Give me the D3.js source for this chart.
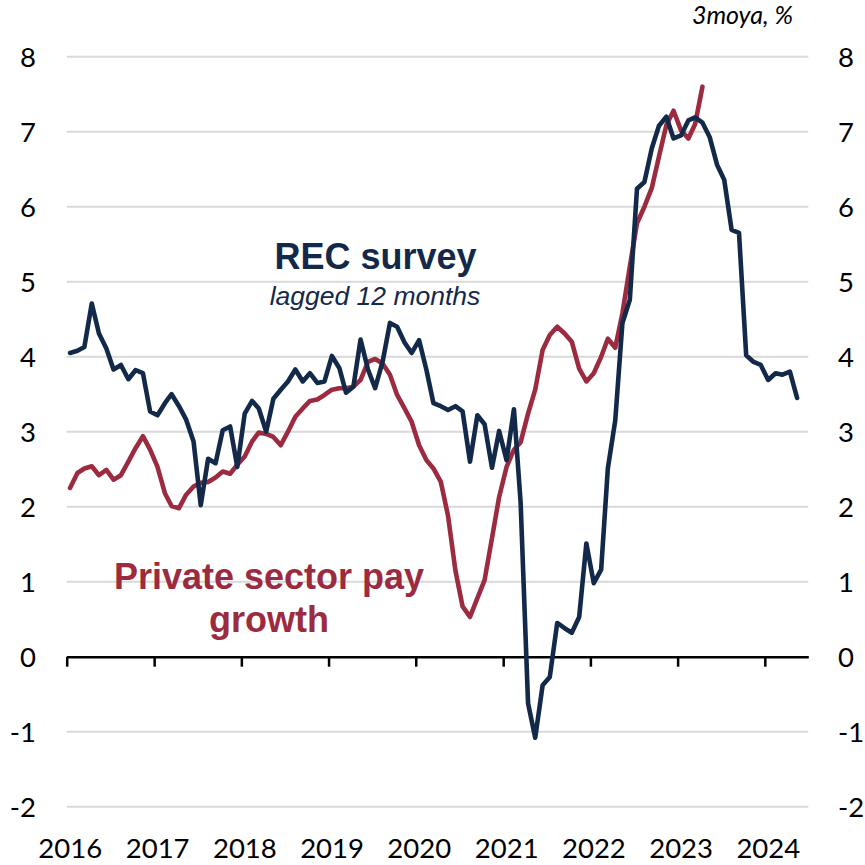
<!DOCTYPE html>
<html>
<head>
<meta charset="utf-8">
<script src="https://cdn.jsdelivr.net/npm/d3@7"></script>
<style>
  html, body { margin: 0; padding: 0; background: #ffffff; }
  svg { display: block; }
</style>
</head>
<body>
<svg id="chart" width="865" height="865"></svg>
<script>
// ---- Data (monthly, starting Jan 2016) ----
const startYear = 2016;
// REC survey, lagged 12 months (Jan 2016 – May 2024)
const recSurvey = [
  4.05, 4.08, 4.13, 4.71, 4.31, 4.11, 3.83, 3.89, 3.70, 3.82, 3.78, 3.27,
  3.22, 3.38, 3.50, 3.34, 3.16, 2.87, 2.02, 2.64, 2.58, 3.02, 3.07, 2.53,
  3.24, 3.41, 3.31, 3.00, 3.44, 3.56, 3.67, 3.83, 3.67, 3.78, 3.65, 3.67,
  4.01, 3.85, 3.52, 3.60, 4.23, 3.83, 3.58, 3.93, 4.45, 4.40, 4.19, 4.05,
  4.22, 3.82, 3.38, 3.34, 3.29, 3.34, 3.27, 2.60, 3.22, 3.10, 2.52, 3.01,
  2.62, 3.30, 2.05, -0.62, -1.08, -0.38, -0.27, 0.45, 0.38, 0.32, 0.53, 1.51,
  0.98, 1.16, 2.51, 3.15, 4.45, 4.76, 6.24, 6.33, 6.78, 7.08, 7.20, 6.91,
  6.95, 7.15, 7.19, 7.12, 6.93, 6.56, 6.36, 5.69, 5.65, 4.02, 3.93, 3.89,
  3.69, 3.78, 3.76, 3.80, 3.45
];
// Private sector pay growth, 3m yoy (Jan 2016 – Apr 2023)
const payGrowth = [
  2.25, 2.45, 2.51, 2.54, 2.42, 2.49, 2.36, 2.42, 2.60, 2.78, 2.94, 2.76,
  2.53, 2.18, 2.01, 1.98, 2.16, 2.27, 2.32, 2.33, 2.39, 2.47, 2.44, 2.56,
  2.67, 2.87, 2.99, 2.97, 2.93, 2.82, 3.00, 3.20, 3.31, 3.41, 3.43, 3.49,
  3.56, 3.58, 3.58, 3.60, 3.69, 3.93, 3.97, 3.91, 3.76, 3.49, 3.31, 3.13,
  2.82, 2.62, 2.51, 2.33, 1.88, 1.15, 0.67, 0.53, 0.78, 1.02, 1.58, 2.13,
  2.53, 2.76, 2.86, 3.24, 3.56, 4.09, 4.29, 4.40, 4.31, 4.20, 3.84, 3.67,
  3.78, 4.00, 4.24, 4.12, 4.58, 5.20, 5.78, 6.00, 6.25, 6.67, 7.09, 7.28,
  7.02, 6.91, 7.10, 7.60
];
const yearTicks = [2016, 2017, 2018, 2019, 2020, 2021, 2022, 2023, 2024];
const yTicks = [-2, -1, 0, 1, 2, 3, 4, 5, 6, 7, 8];
const unitLabel = "3moya, %";
const recLabel = "REC survey";
const recSubLabel = "lagged 12 months";
const payLabelLines = ["Private sector pay", "growth"];

// ---- Styling ----
const navy = "#13294a";
const red = "#9c2b40";
const gridColor = "#d9d9d9";
const tickFont = "Lato, 'Noto Sans', sans-serif";
const labelFont = "'Liberation Sans', Arial, sans-serif";

const svg = d3.select("#chart");
const plotL = 66.7, plotR = 808.3, plotT = 56.7, plotB = 806.7;

const x = d3.scaleTime()
  .domain([new Date(2016, 0, 1), new Date(2024, 6, 1)])
  .range([plotL, plotR]);
const y = d3.scaleLinear().domain([-2, 8]).range([plotB, plotT]);

const toDate = i => new Date(startYear, i, 15);

// gridlines
svg.append("g")
  .selectAll("line")
  .data(yTicks.filter(v => v !== 0))
  .join("line")
  .attr("x1", plotL).attr("x2", plotR)
  .attr("y1", d => y(d)).attr("y2", d => y(d))
  .attr("stroke", gridColor)
  .attr("stroke-width", 2);

// y labels left & right
svg.append("g")
  .selectAll("text")
  .data(yTicks)
  .join("text")
  .attr("x", 36)
  .attr("y", d => y(d))
  .attr("dy", "0.36em")
  .attr("text-anchor", "end")
  .attr("font-family", tickFont)
  .attr("font-size", 27.5)
  .attr("fill", "#000")
  .text(d => d);

svg.append("g")
  .selectAll("text")
  .data(yTicks)
  .join("text")
  .attr("x", 838)
  .attr("y", d => y(d))
  .attr("dy", "0.36em")
  .attr("text-anchor", "start")
  .attr("font-family", tickFont)
  .attr("font-size", 27.5)
  .attr("fill", "#000")
  .text(d => d);

// zero axis with year ticks
const xAxis = d3.axisBottom(x)
  .tickValues(yearTicks.map(yr => new Date(yr, 0, 1)))
  .tickSize(10)
  .tickSizeOuter(0)
  .tickFormat(d3.timeFormat("%Y"));

const axisG = svg.append("g")
  .attr("transform", `translate(0,${y(0)})`)
  .call(xAxis);
axisG.select(".domain").attr("stroke", "#000").attr("stroke-width", 2.5);
axisG.selectAll(".tick line").attr("stroke", "#000").attr("stroke-width", 2.5);
axisG.selectAll(".tick text").remove();

// year labels at the bottom
svg.append("g")
  .selectAll("text")
  .data(yearTicks)
  .join("text")
  .attr("x", d => x(new Date(d, 0, 1)) + 3.5)
  .attr("y", 858)
  .attr("text-anchor", "middle")
  .attr("font-family", tickFont)
  .attr("font-size", 27.5)
  .attr("fill", "#000")
  .text(d => d);

// lines
const line = d3.line()
  .x((d, i) => x(toDate(i)))
  .y(d => y(d))
  .curve(d3.curveLinear);

svg.append("path")
  .datum(payGrowth)
  .attr("fill", "none")
  .attr("stroke", red)
  .attr("stroke-width", 4.6)
  .attr("stroke-linejoin", "round")
  .attr("stroke-linecap", "round")
  .attr("d", line);

svg.append("path")
  .datum(recSurvey)
  .attr("fill", "none")
  .attr("stroke", navy)
  .attr("stroke-width", 4.6)
  .attr("stroke-linejoin", "round")
  .attr("stroke-linecap", "round")
  .attr("d", line);

// unit label
svg.append("text")
  .attr("x", 793)
  .attr("y", 24)
  .attr("text-anchor", "end")
  .attr("font-family", tickFont)
  .attr("font-style", "italic")
  .attr("font-size", 25)
  .attr("fill", "#000")
  .text(unitLabel);

// REC survey annotation
svg.append("text")
  .attr("x", 375.5)
  .attr("y", 269)
  .attr("text-anchor", "middle")
  .attr("font-family", labelFont)
  .attr("font-weight", "bold")
  .attr("font-size", 36)
  .attr("fill", navy)
  .text(recLabel);

svg.append("text")
  .attr("x", 375)
  .attr("y", 305)
  .attr("text-anchor", "middle")
  .attr("font-family", labelFont)
  .attr("font-style", "italic")
  .attr("font-size", 26.5)
  .attr("fill", navy)
  .text(recSubLabel);

// Pay growth annotation
svg.append("g")
  .selectAll("text")
  .data(payLabelLines)
  .join("text")
  .attr("x", 269)
  .attr("y", (d, i) => 589 + i * 43)
  .attr("text-anchor", "middle")
  .attr("font-family", labelFont)
  .attr("font-weight", "bold")
  .attr("font-size", 36)
  .attr("fill", red)
  .text(d => d);
</script>
</body>
</html>
